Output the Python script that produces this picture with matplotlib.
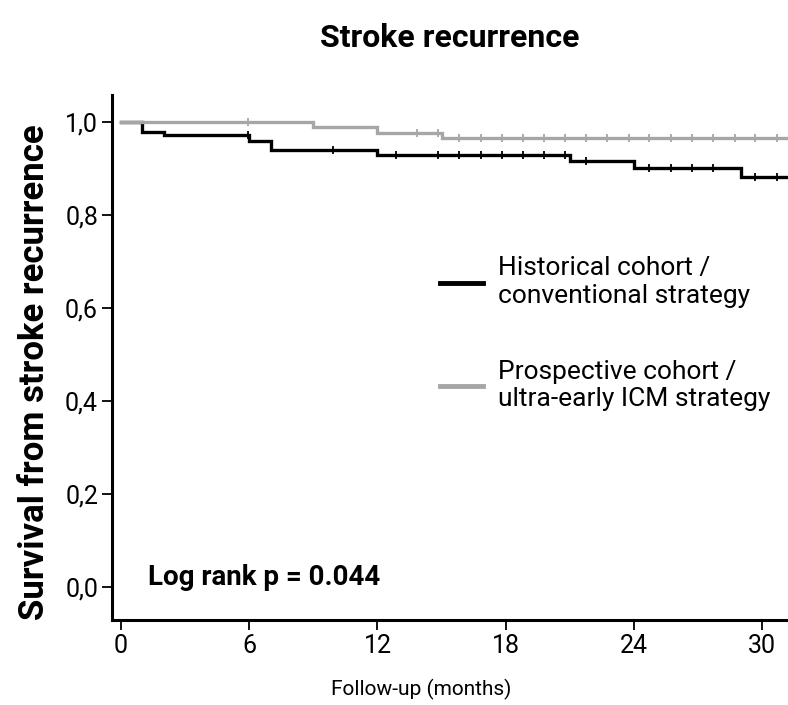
import numpy as np
import matplotlib
matplotlib.use("Agg")
import matplotlib.pyplot as plt

plt.rcParams['font.family'] = ['Roboto', 'DejaVu Sans']

# Kaplan-Meier step data (months, survival)
hist_times = [0, 1, 2, 6, 7, 12, 21, 24, 29]
hist_surv = [1.0, 0.9785, 0.9714, 0.9592, 0.939, 0.928, 0.9156, 0.900, 0.882]
hist_censor = [5.93, 9.9, 12.87, 14.84, 15.82, 16.83, 17.81, 18.82, 19.79, 20.75,
               21.73, 24.72, 25.73, 26.71, 27.69, 29.66, 30.67]

pros_times = [0, 9, 12, 15]
pros_surv = [1.0, 0.989, 0.976, 0.9656]
pros_censor = [5.93, 13.86, 14.84, 15.82, 16.83, 17.81, 18.82, 19.79, 20.75, 21.73,
               22.74, 23.75, 24.72, 25.73, 26.71, 27.69, 28.71, 29.66, 30.67]

x_ticks = [0, 6, 12, 18, 24, 30]
y_ticks = [0.0, 0.2, 0.4, 0.6, 0.8, 1.0]
y_labels = ['0,0', '0,2', '0,4', '0,6', '0,8', '1,0']

x_end = 31.2

fig = plt.figure(figsize=(7.88, 7.05), dpi=100)
ax = fig.add_axes([0.142, 0.121, 0.858, 0.744])


def draw_km(times, surv, censor, color, label):
    t = list(times) + [x_end]
    s = list(surv) + [surv[-1]]
    ax.step(t, s, where='post', color=color, lw=2.4, label=label, solid_joinstyle='miter')
    idx = np.searchsorted(times, censor, side='right') - 1
    ax.plot(censor, np.array(surv)[idx], ls='none', marker='|', ms=6, mew=1.3, color=color)


draw_km(hist_times, hist_surv, hist_censor, 'black', 'Historical cohort /\nconventional strategy')
draw_km(pros_times, pros_surv, pros_censor, '#a6a6a6', 'Prospective cohort /\nultra-early ICM strategy')

ax.set_xlim(-0.42, x_end)
ax.set_ylim(-0.07, 1.057)
ax.set_xticks(x_ticks)
ax.set_yticks(y_ticks)
ax.set_yticklabels(y_labels)
ax.tick_params(labelsize=18, width=1.3, length=7, color='black', pad=3)
for side in ['top', 'right']:
    ax.spines[side].set_visible(False)
for side in ['left', 'bottom']:
    ax.spines[side].set_linewidth(2.2)

ax.set_title('Stroke recurrence', fontsize=23, fontweight='bold', pad=35)
ax.set_xlabel('Follow-up (months)', fontsize=15)
ax.xaxis.set_label_coords(0.457, -0.112)
ax.set_ylabel('Survival from stroke recurrence', fontsize=25, fontweight='bold')
ax.yaxis.set_label_coords(-0.09, 0.472)

ax.text(0.053, 0.055, 'Log rank p = 0.044', transform=ax.transAxes, fontsize=20,
        fontweight='bold', va='bottom', ha='left')

leg = ax.legend(loc='upper left', bbox_to_anchor=(0.45, 0.738), frameon=False,
                fontsize=19, handlelength=1.65, handletextpad=0.55, labelspacing=1.95)
for line in leg.get_lines():
    line.set_linewidth(3.5)

fig.savefig('out.png', dpi=100)
